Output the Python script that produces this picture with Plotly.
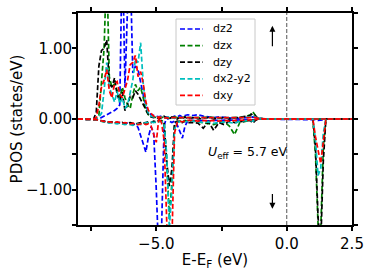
import plotly.graph_objects as go

# ---------------- data ----------------
energy = [-8.0, -7.6,
          -7.4, -7.3, -7.2, -7.1, -7.0, -6.9, -6.8, -6.7, -6.6, -6.5,
          -6.4, -6.3, -6.2, -6.1, -6.0, -5.9, -5.8, -5.7, -5.6, -5.5,
          -5.4, -5.3, -5.2, -5.1, -5.0, -4.9, -4.8, -4.7, -4.6, -4.5,
          -4.4, -4.3, -4.2, -4.1, -4.0, -3.9, -3.8,
          -3.6, -3.4, -3.2, -3.0, -2.8, -2.6, -2.4, -2.2, -2.0,
          -1.8, -1.6, -1.4, -1.3, -1.2, -1.1,
          -0.8, -0.4, 0.0, 0.4, 0.8,
          1.0, 1.1, 1.2, 1.3, 1.4, 1.5, 1.6, 2.0, 2.5]

orbitals = ["dz2", "dzx", "dzy", "dx2-y2", "dxy"]

dz2_up = [0, 0,
          0, 0, 0.0, 0.02, 0.04, 0.05, 0.07, 0.1, 0.12, 0.15,
          0.2, 2.5, 0.45, 1.6, 2.2, 0.65, 0.75, 0.7, 0.5, 0.34,
          0.2, 0.1, 0.06, 0.05, 0.04, 0.03, 0.04, 0.03, 0.02, 0.03,
          0.02, 0.04, 0.03, 0.05, 0.03, 0.05, 0.06,
          0.05, 0.06, 0.04, 0.03, 0.02, 0.03, 0.02, 0.02, 0.01,
          0.01, 0.02, 0.02, 0.03, 0.02, 0.01,
          0, 0, 0, 0, 0,
          0, 0, 0, 0, 0, 0, 0, 0, 0]
dz2_dn = [0, 0,
          0, -0.01, -0.02, -0.03, -0.03, -0.04, -0.04, -0.05, -0.05, -0.05,
          -0.05, -0.06, -0.05, -0.06, -0.06, -0.07, -0.08, -0.12, -0.22, -0.35,
          -0.47, -0.25, -0.11, -0.2, -1.0, -2.0, -1.6, -0.1, 0.03, -0.03,
          -0.05, -0.03, -0.08, -0.18, -0.27, -0.1, -0.03,
          -0.02, -0.03, -0.02, -0.03, -0.02, -0.02, -0.01, -0.02, -0.01,
          -0.01, -0.01, -0.02, -0.01, -0.01, 0,
          0, 0, 0, 0, 0,
          0, -0.01, -0.02, -0.02, -0.01, 0, 0, 0, 0]

dzx_up = [0, 0,
          0, 0, 0.05, 0.6, 1.0, 2.2, 0.6, 0.45, 0.5, 0.4,
          0.3, 0.45, 0.3, 0.2, 0.15, 0.34, 0.49, 0.4, 0.45, 0.3,
          0.12, 0.06, 0.04, 0.03, 0.02, 0.03, 0.02, 0.03, 0.02, 0.01,
          0.02, 0.03, 0.02, 0.01, 0.02, 0.03, 0.02,
          0.02, 0.01, 0.02, 0.03, 0.02, 0.01, 0.02, 0.01, 0.02,
          0.02, 0.03, 0.06, 0.1, 0.05, 0.01,
          0, 0, 0, 0, 0,
          0, 0, 0, 0, 0, 0, 0, 0, 0]
dzx_dn = [0, 0,
          0, -0.01, -0.02, -0.03, -0.04, -0.05, -0.04, -0.05, -0.06, -0.05,
          -0.06, -0.07, -0.06, -0.05, -0.06, -0.07, -0.08, -0.07, -0.06, -0.05,
          -0.06, -0.05, -0.04, -0.04, -0.05, -0.03, -0.02, -0.05, -0.6, -1.38,
          -0.9, -0.1, -0.05, -0.03, -0.04, -0.02, -0.03,
          -0.03, -0.04, -0.05, -0.06, -0.08, -0.05, -0.04, -0.1, -0.22,
          -0.05, -0.03, -0.02, -0.02, -0.01, 0,
          0, 0, 0, 0, 0,
          0, -0.5, -1.5, -1.6, -0.4, 0, 0, 0, 0]

dzy_up = [0, 0,
          0, 0.1, 0.75, 0.97, 1.0, 1.12, 0.5, 0.45, 0.58, 0.35,
          0.25, 0.38, 0.12, 0.2, 0.32, 0.3, 0.4, 0.35, 0.28, 0.2,
          0.12, 0.06, 0.03, 0.02, 0.03, 0.0, 0.02, 0.04, 0.01, 0.0,
          0.03, 0.02, 0.0, 0.02, 0.0, 0.03, 0.0,
          0.02, 0.0, 0.01, 0.02, 0.0, 0.01, 0.02, 0.0, 0.01,
          0.02, 0.03, 0.05, 0.08, 0.04, 0.01,
          0, 0, 0, 0, 0,
          0, 0, 0, 0, 0, 0, 0, 0, 0]
dzy_dn = [0, 0,
          0, -0.01, -0.02, -0.02, -0.03, -0.04, -0.05, -0.04, -0.06, -0.05,
          -0.06, -0.05, -0.07, -0.06, -0.05, -0.06, -0.07, -0.06, -0.05, -0.06,
          -0.05, -0.04, -0.05, -0.03, -0.04, -0.02, -0.03, -0.05, -0.6, -0.95,
          -0.7, -0.05, -0.03, -0.04, -0.05, -0.03, -0.05,
          -0.05, -0.06, -0.13, -0.04, -0.16, -0.05, -0.08, -0.03, -0.05,
          -0.04, -0.03, -0.02, -0.06, -0.02, 0,
          0, 0, 0, 0, 0,
          0, -0.4, -1.4, -1.8, -0.6, 0, 0, 0, 0]

dx2y2_up = [0, 0,
            0, 0, 0.03, 0.08, 0.4, 0.8, 0.45, 0.35, 0.24, 0.39,
            0.22, 0.3, 0.15, 0.2, 0.36, 0.55, 0.85, 0.8, 1.08, 0.5,
            0.2, 0.08, 0.04, 0.03, 0.02, 0.03, 0.02, 0.01, 0.02, 0.03,
            0.02, 0.01, 0.02, 0.02, 0.01, 0.02, 0.01,
            0.02, 0.01, 0.02, 0.01, 0.02, 0.01, 0.02, 0.01, 0.02,
            0.02, 0.02, 0.03, 0.05, 0.03, 0.01,
            0, 0, 0, 0, 0,
            0, 0, 0, 0, 0, 0, 0, 0, 0]
dx2y2_dn = [0, 0,
            0, -0.01, -0.02, -0.03, -0.04, -0.05, -0.06, -0.05, -0.06, -0.07,
            -0.06, -0.07, -0.08, -0.07, -0.08, -0.09, -0.08, -0.07, -0.08, -0.06,
            -0.05, -0.05, -0.04, -0.05, -0.04, -0.03, -0.04, -0.06, -0.5, -1.55,
            -1.0, -0.15, -0.05, -0.04, -0.03, -0.04, -0.03,
            -0.03, -0.04, -0.05, -0.04, -0.06, -0.05, -0.04, -0.05, -0.06,
            -0.03, -0.02, -0.02, -0.03, -0.01, 0,
            0, 0, 0, 0, 0,
            0, -0.3, -0.8, -0.7, -0.2, 0, 0, 0, 0]

dxy_up = [0, 0,
          0, 0.02, 0.2, 0.45, 0.55, 0.7, 0.4, 0.3, 0.5, 0.53,
          0.35, 0.3, 0.42, 0.55, 0.77, 0.8, 0.9, 0.6, 0.67, 0.5,
          0.24, 0.12, 0.08, 0.04, 0.02, 0.03, 0.02, 0.01, 0.02, 0.01,
          0.02, 0.02, 0.01, 0.02, 0.01, 0.02, 0.01,
          0.01, 0.02, 0.01, 0.02, 0.01, 0.02, 0.01, 0.02, 0.01,
          0.01, 0.02, 0.02, 0.03, 0.02, 0.01,
          0, 0, 0, 0, 0,
          0, 0, 0, 0, 0, 0, 0, 0, 0]
dxy_dn = [0, 0,
          0, -0.01, -0.02, -0.03, -0.03, -0.04, -0.04, -0.05, -0.05, -0.04,
          -0.05, -0.06, -0.05, -0.06, -0.07, -0.06, -0.07, -0.08, -0.07, -0.06,
          -0.08, -0.07, -0.1, -0.2, -0.33, 0.02, -0.05, -0.3, -1.6, -2.6,
          -1.7, -0.2, -0.05, -0.03, -0.04, -0.03, -0.02,
          -0.02, -0.03, -0.02, -0.03, -0.02, -0.03, -0.02, -0.03, -0.02,
          -0.02, -0.02, -0.01, -0.02, -0.01, 0,
          0, 0, 0, 0, 0,
          0, -0.25, -0.45, -0.63, -0.32, 0, 0, 0, 0]

fermi_level = 0.0
x_major_ticks = [-5.0, 0.0, 2.5]
x_major_labels = ["\u22125.0", "0.0", "2.5"]
x_minor_ticks = [-7.5, -2.5]
y_major_ticks = [-1.0, 0.0, 1.0]
y_major_labels = ["\u22121.00", "0.00", "1.00"]
y_minor_ticks = [-1.5, -0.5, 0.5, 1.5]
ueff_label = "<i>U</i><sub>eff</sub> = 5.7 eV"

series_up = [dz2_up, dzx_up, dzy_up, dx2y2_up, dxy_up]
series_dn = [dz2_dn, dzx_dn, dzy_dn, dx2y2_dn, dxy_dn]
for s in series_up + series_dn:
    assert len(s) == len(energy), len(s)

# ---------------- styles / layout ----------------
colors = ["#0000ff", "#008000", "#000000", "#00bfbf", "#ff0000"]
DASH = "5px,2.5px"
LW = 1.7
FONT = "DejaVu Sans"
W, H = 374, 280
L, R, T, B = 78, 22, 13, 55
PW, PH = W - L - R, H - T - B


def px_to_paper(px, py):
    return (px - L) / PW, (H - B - py) / PH


fig = go.Figure()
for name, col, up, dn in zip(orbitals, colors, series_up, series_dn):
    for ys in (up, dn):
        fig.add_trace(go.Scatter(x=energy, y=ys, mode="lines", name=name,
                                 line=dict(color=col, width=LW, dash=DASH),
                                 showlegend=False, hoverinfo="skip"))

fig.add_vline(x=fermi_level, line=dict(color="#555555", width=1, dash="4px,2px"))

# legend (framed box of sample lines + labels)
bx0, by1 = px_to_paper(176, 19)
bx1, by0 = px_to_paper(255, 105)
fig.add_shape(type="rect", xref="paper", yref="paper", x0=bx0, x1=bx1, y0=by0, y1=by1,
              line=dict(color="#c8c8c8", width=1), fillcolor="rgba(255,255,255,0.85)",
              layer="above")
for i, (name, col) in enumerate(zip(orbitals, colors)):
    row_py = 29 + i * 16.6
    lx0, ly = px_to_paper(180, row_py)
    lx1, _ = px_to_paper(203, row_py)
    tx, _ = px_to_paper(211, row_py)
    fig.add_shape(type="line", xref="paper", yref="paper", x0=lx0, x1=lx1, y0=ly, y1=ly,
                  line=dict(color=col, width=LW, dash=DASH), layer="above")
    fig.add_annotation(x=tx, y=ly, xref="paper", yref="paper", text=name,
                       showarrow=False, xanchor="left", yanchor="middle",
                       font=dict(family=FONT, size=11, color="black"))

# arrows (spin up / spin down)
fig.add_annotation(x=-0.55, y=1.32, ax=-0.55, ay=1.01, xref="x", yref="y",
                   axref="x", ayref="y", text="", showarrow=True,
                   arrowhead=2, arrowsize=1, arrowwidth=1.2, arrowcolor="black")
fig.add_annotation(x=-0.55, y=-1.27, ax=-0.55, ay=-1.04, xref="x", yref="y",
                   axref="x", ayref="y", text="", showarrow=True,
                   arrowhead=2, arrowsize=1, arrowwidth=1.2, arrowcolor="black")
fig.add_annotation(x=-1.5, y=-0.47, xref="x", yref="y", text=ueff_label,
                   showarrow=False, xanchor="center", yanchor="middle",
                   font=dict(family=FONT, size=12.5, color="black"))

tick_style = dict(ticks="outside", ticklen=4, tickwidth=1.6, tickcolor="black")
axis_common = dict(showline=True, linecolor="black", linewidth=2, mirror="ticks",
                   showgrid=False, zeroline=False,
                   tickfont=dict(family=FONT, size=15, color="black"), **tick_style)

fig.update_xaxes(range=[-8, 2.5], tickmode="array", tickvals=x_major_ticks,
                 ticktext=x_major_labels,
                 minor=dict(tickmode="array", tickvals=x_minor_ticks, showgrid=False,
                            **tick_style),
                 title=dict(text="E-E<sub>F</sub> (eV)", standoff=2,
                            font=dict(family=FONT, size=15, color="black")),
                 **axis_common)
fig.update_yaxes(range=[-1.5, 1.5], tickmode="array", tickvals=y_major_ticks,
                 ticktext=y_major_labels, ticklabelstandoff=-3,
                 minor=dict(tickmode="array", tickvals=y_minor_ticks, showgrid=False,
                            **tick_style),
                 title=dict(text="PDOS (states/eV)", standoff=0,
                            font=dict(family=FONT, size=15, color="black")),
                 **axis_common)

fig.update_layout(
    width=W, height=H,
    margin=dict(l=L, r=R, t=T, b=B, autoexpand=False),
    paper_bgcolor="white", plot_bgcolor="white",
    font=dict(family=FONT, color="black"),
    showlegend=False,
)

fig.write_html("out.html", config={"displayModeBar": False},
               post_script="document.body.style.margin='0px';document.body.style.padding='0px';")
